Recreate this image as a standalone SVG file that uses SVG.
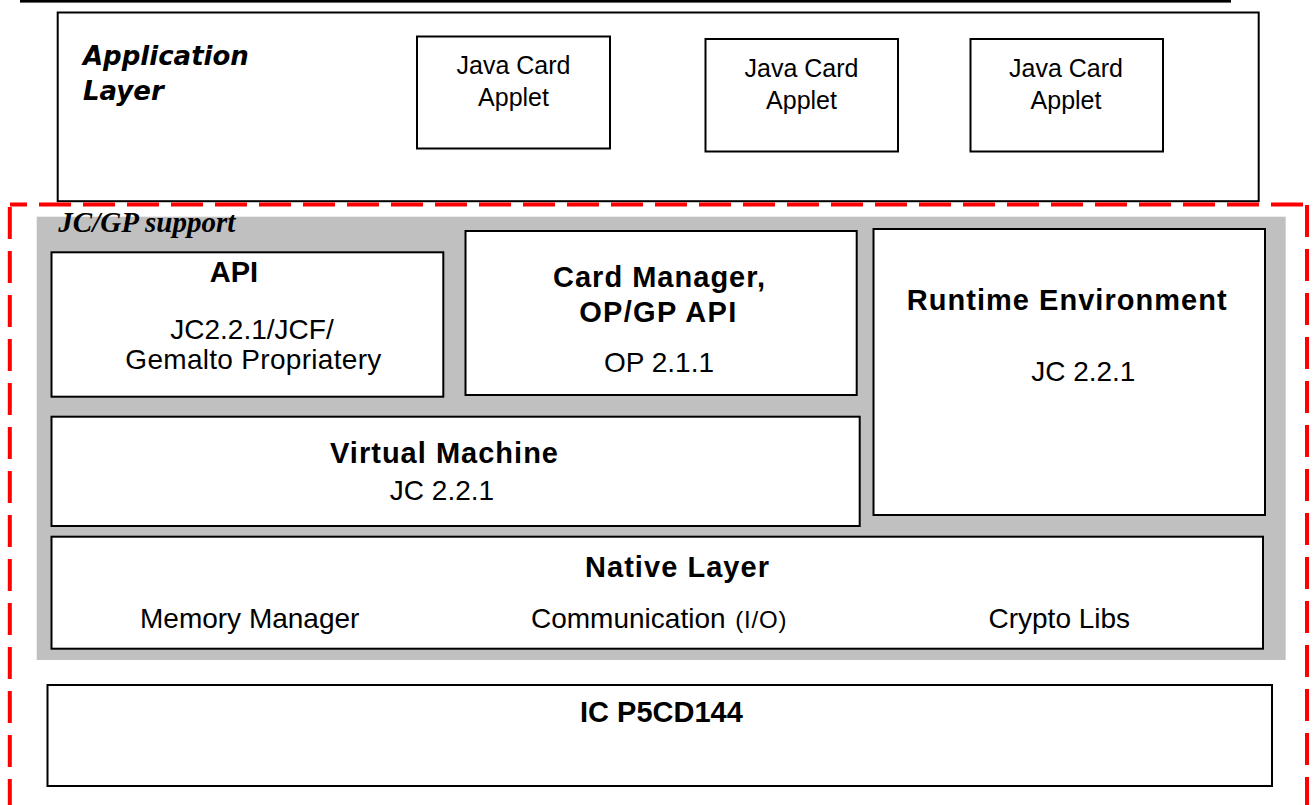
<svg xmlns="http://www.w3.org/2000/svg" width="1313" height="805" viewBox="0 0 1313 805">
<style>
.box{fill:#fff;stroke:#000;stroke-width:2}
.reg{font-family:"Liberation Sans",Arial,sans-serif;font-size:28px;fill:#000}
.sm{font-family:"Liberation Sans",Arial,sans-serif;font-size:25px;fill:#000}
.bold{font-family:"Liberation Sans",Arial,sans-serif;font-size:29px;font-weight:bold;fill:#000}
.mid{text-anchor:middle}
.dash{fill:none;stroke:#ff0000;stroke-width:4;stroke-dasharray:32 12}
</style>
<rect x="0" y="0" width="1313" height="805" fill="#fff"/>
<rect id="top-rule" x="20" y="0" width="1211" height="2.6" fill="#000"/>

<g id="application-layer">
<rect class="box" x="57.7" y="12.5" width="1201" height="188.7"/>
<text x="83" y="65" font-family="'DejaVu Sans',Verdana,sans-serif" font-size="26" font-weight="bold" font-style="italic">Application</text>
<text x="83" y="100" font-family="'DejaVu Sans',Verdana,sans-serif" font-size="26" font-weight="bold" font-style="italic">Layer</text>
</g>

<g id="applet-1">
<rect class="box" x="417" y="36.5" width="193" height="112"/>
<text class="sm mid" x="513.5" y="74">Java Card</text>
<text class="sm mid" x="513.5" y="106">Applet</text>
</g>
<g id="applet-2">
<rect class="box" x="705.5" y="39" width="192.5" height="112.5"/>
<text class="sm mid" x="801.5" y="77.3">Java Card</text>
<text class="sm mid" x="801.5" y="109">Applet</text>
</g>
<g id="applet-3">
<rect class="box" x="970.5" y="39" width="192.5" height="112.5"/>
<text class="sm mid" x="1066" y="77.3">Java Card</text>
<text class="sm mid" x="1066" y="109">Applet</text>
</g>

<g id="jcgp-support">
<rect x="36.7" y="216.7" width="1249" height="443.3" fill="#c0c0c0"/>
<text x="58.3" y="232" font-family="'Liberation Serif','Times New Roman',serif" font-size="29" font-weight="bold" font-style="italic">JC/GP support</text>
</g>

<g id="api">
<rect class="box" x="51.5" y="252.3" width="391.8" height="144.4"/>
<text class="bold mid" x="234" y="281.7">API</text>
<text class="reg mid" x="252" y="339">JC2.2.1/JCF/</text>
<text class="reg mid" x="253.3" y="368.5" font-size="27.5" textLength="256">Gemalto Propriatery</text>
</g>

<g id="card-manager">
<rect class="box" x="465.5" y="231" width="391.2" height="164"/>
<text class="bold mid" x="659" y="287.3" textLength="212">Card Manager,</text>
<text class="bold mid" x="657.7" y="321.7" textLength="157">OP/GP API</text>
<text class="reg mid" x="659" y="372.3">OP 2.1.1</text>
</g>

<g id="runtime-environment">
<rect class="box" x="873.5" y="229" width="391.5" height="286"/>
<text class="bold mid" x="1066.7" y="310" textLength="320">Runtime Environment</text>
<text class="reg mid" x="1083.3" y="380.7">JC 2.2.1</text>
</g>

<g id="virtual-machine">
<rect class="box" x="51.5" y="416.7" width="808.2" height="109.3"/>
<text class="bold mid" x="444" y="463.3" textLength="228">Virtual Machine</text>
<text class="reg mid" x="442" y="500">JC 2.2.1</text>
</g>

<g id="native-layer">
<rect class="box" x="51.5" y="536.7" width="1211.5" height="112"/>
<text class="bold" x="585" y="577" textLength="184">Native Layer</text>
<text class="reg" x="140" y="628">Memory Manager</text>
<text class="reg" x="531" y="628">Communication <tspan font-size="24" dx="2" letter-spacing="0.8">(I/O)</tspan></text>
<text class="reg" x="988.5" y="628">Crypto Libs</text>
</g>

<g id="ic">
<rect class="box" x="47.5" y="685" width="1224.5" height="101"/>
<text class="bold" x="580" y="721.7">IC P5CD144</text>
</g>

<g id="connectors">
<line class="dash" x1="1303" y1="204.6" x2="10" y2="204.6"/>
<line class="dash" x1="9.8" y1="207" x2="9.8" y2="830"/>
<line class="dash" x1="1307" y1="205" x2="1307" y2="830"/>
</g>
</svg>
